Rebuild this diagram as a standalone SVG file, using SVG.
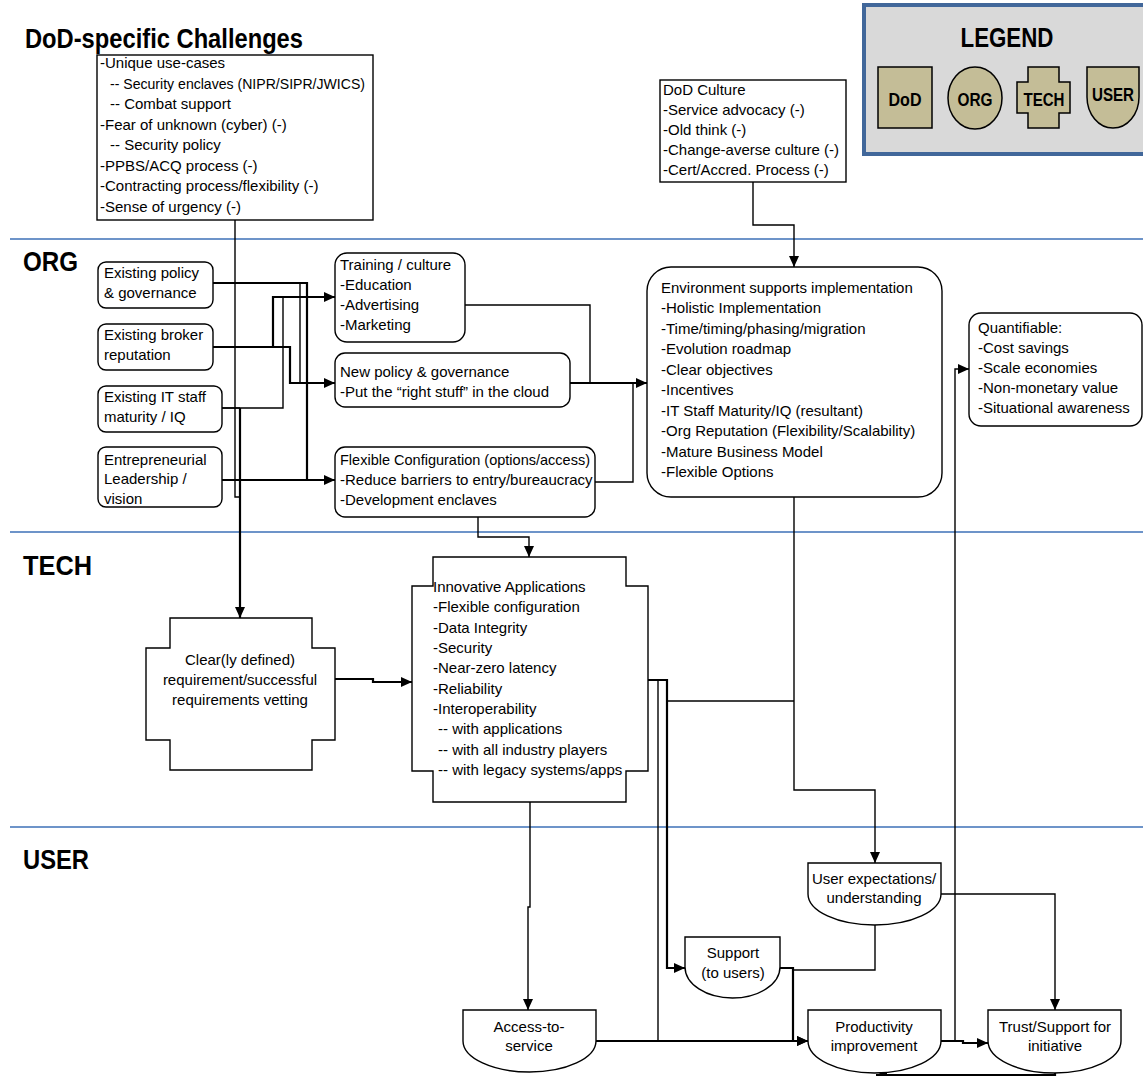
<svg xmlns="http://www.w3.org/2000/svg" width="1143" height="1076" viewBox="0 0 1143 1076">
  <defs>
    <marker id="arr" markerUnits="userSpaceOnUse" markerWidth="11" markerHeight="10" refX="11" refY="5" orient="auto">
      <path d="M0,0 L11,5 L0,10 z" fill="#000"/>
    </marker>
    <style>
      text { font-family: "Liberation Sans", Arial, sans-serif; font-size: 15px; fill: #000; }
      .h { font-size: 28px; font-weight: bold; }
      .lg { font-size: 18px; font-weight: bold; }
      .box { fill: #fff; stroke: #000; stroke-width: 1.4; }
      .leg { fill: #c4bd97; stroke: #000; stroke-width: 1.5; }
      .sep { stroke: #6d94c9; stroke-width: 2; }
      .c { fill: none; stroke: #000; stroke-width: 1.4; }
      .t { fill: none; stroke: #000; stroke-width: 2.2; }
      .mid { text-anchor: middle; }
    </style>
  </defs>

  <rect width="1143" height="1076" fill="#fff"/>

  <!-- swim-lane separators -->
  <g id="lanes">
    <line class="sep" x1="10" y1="239" x2="1143" y2="239"/>
    <line class="sep" x1="10" y1="532" x2="1143" y2="532"/>
    <line class="sep" x1="10" y1="827" x2="1143" y2="827"/>
    <text class="h" x="25" y="48" textLength="278" lengthAdjust="spacingAndGlyphs">DoD-specific Challenges</text>
    <text class="h" x="23" y="271" textLength="55" lengthAdjust="spacingAndGlyphs">ORG</text>
    <text class="h" x="23" y="575" textLength="69" lengthAdjust="spacingAndGlyphs">TECH</text>
    <text class="h" x="23" y="869" textLength="66" lengthAdjust="spacingAndGlyphs">USER</text>
  </g>

  <!-- legend -->
  <g id="legend">
    <rect x="864" y="5" width="300" height="149" fill="#d9d9d9" stroke="#41679a" stroke-width="4"/>
    <text class="h mid" x="1007" y="47" textLength="93" lengthAdjust="spacingAndGlyphs">LEGEND</text>
    <rect class="leg" x="878" y="67" width="54" height="61"/>
    <text class="lg mid" x="905" y="106" textLength="33" lengthAdjust="spacingAndGlyphs">DoD</text>
    <ellipse class="leg" cx="975" cy="98" rx="27" ry="31"/>
    <text class="lg mid" x="975" y="106" textLength="35" lengthAdjust="spacingAndGlyphs">ORG</text>
    <path class="leg" d="M1028,67 H1059 V82 H1070 V113 H1059 V128 H1028 V113 H1017 V82 H1028 Z"/>
    <text class="lg mid" x="1044" y="106" textLength="41" lengthAdjust="spacingAndGlyphs">TECH</text>
    <path class="leg" d="M1087,67 H1139 V97 A26,31 0 0 1 1087,97 Z"/>
    <text class="lg mid" x="1113" y="101" textLength="42" lengthAdjust="spacingAndGlyphs">USER</text>
  </g>

  <!-- connectors -->
  <g id="connectors">
    <!-- DoD challenges down to requirements -->
    <path class="c" d="M235,220 V497 H240"/>
    <path class="t" d="M240,408 V618" marker-end="url(#arr)"/>
    <!-- existing org factors to ORG actions -->
    <path class="t" d="M213,283 H307 V480"/>
    <path class="c" d="M300,283 V383"/>
    <path class="t" d="M213,347 H290 V383 H335" marker-end="url(#arr)"/>
    <path class="t" d="M273,347 V297 H335" marker-end="url(#arr)"/>
    <path class="c" d="M222,408 H283 V297"/>
    <path class="c" d="M222,408 H240"/>
    <path class="t" d="M222,480 H335" marker-end="url(#arr)"/>
    <!-- ORG actions to environment -->
    <path class="c" d="M465,305 H590 V383"/>
    <path class="t" d="M570,383 H647" marker-end="url(#arr)"/>
    <path class="c" d="M595,482 H633 V383"/>
    <!-- DoD culture to environment -->
    <path class="c" d="M753,182 V225 H794 V267" marker-end="url(#arr)"/>
    <!-- flexible configuration to innovative applications -->
    <path class="c" d="M478,517 V537 H529 V557" marker-end="url(#arr)"/>
    <!-- requirements to innovative applications -->
    <path class="t" d="M335,679 H373 V682 H412" marker-end="url(#arr)"/>
    <!-- innovative applications outputs -->
    <path class="t" d="M648,680 H667 V968 H685" marker-end="url(#arr)"/>
    <path class="c" d="M658,680 V1041"/>
    <path class="c" d="M667,701 H794"/>
    <path class="c" d="M530,802 V907 H528 V1010" marker-end="url(#arr)"/>
    <!-- environment to user expectations -->
    <path class="c" d="M794,497 V790 H875 V863" marker-end="url(#arr)"/>
    <!-- user level links -->
    <path class="c" d="M941,894 H1055 V1010" marker-end="url(#arr)"/>
    <path class="c" d="M875,925 V970 H793"/>
    <path class="t" d="M780,968 H793 V1041 H808" marker-end="url(#arr)"/>
    <path class="t" d="M596,1041 H808" marker-end="url(#arr)"/>
    <path class="t" d="M941,1041 H963 V1043 H988" marker-end="url(#arr)"/>
    <path class="c" d="M941,1041 H955 V369 H969" marker-end="url(#arr)"/>
    <path class="t" d="M1055,1073 V1075 H876" marker-end="url(#arr)"/>
  </g>

  <!-- DoD-level nodes -->
  <g id="dod-challenges">
    <rect class="box" x="97" y="55" width="276" height="165"/>
    <text x="100" y="68">-Unique  use-cases</text>
    <text x="110" y="89" textLength="255" lengthAdjust="spacingAndGlyphs">-- Security enclaves (NIPR/SIPR/JWICS)</text>
    <text x="110" y="109">-- Combat support</text>
    <text x="100" y="130">-Fear of unknown  (cyber) (-)</text>
    <text x="110" y="150">-- Security policy</text>
    <text x="100" y="171">-PPBS/ACQ process (-)</text>
    <text x="100" y="191">-Contracting process/flexibility (-)</text>
    <text x="100" y="212">-Sense of urgency (-)</text>
  </g>

  <g id="dod-culture">
    <rect class="box" x="660" y="80" width="186" height="102"/>
    <text x="663" y="95">DoD Culture</text>
    <text x="663" y="115">-Service advocacy (-)</text>
    <text x="663" y="135">-Old think (-)</text>
    <text x="663" y="155">-Change-averse culture (-)</text>
    <text x="663" y="175">-Cert/Accred. Process (-)</text>
  </g>

  <!-- ORG-level nodes -->
  <g id="existing-policy">
    <rect class="box" x="98" y="262" width="115" height="46" rx="8"/>
    <text x="104" y="278">Existing policy</text>
    <text x="104" y="298">&amp; governance</text>
  </g>
  <g id="existing-broker">
    <rect class="box" x="98" y="324" width="115" height="46" rx="8"/>
    <text x="104" y="340">Existing broker</text>
    <text x="104" y="360">reputation</text>
  </g>
  <g id="existing-it-staff">
    <rect class="box" x="98" y="386" width="124" height="46" rx="8"/>
    <text x="104" y="402">Existing IT staff</text>
    <text x="104" y="422">maturity / IQ</text>
  </g>
  <g id="entrepreneurial-leadership">
    <rect class="box" x="98" y="447" width="124" height="60" rx="8"/>
    <text x="104" y="465">Entrepreneurial</text>
    <text x="104" y="484">Leadership /</text>
    <text x="104" y="504">vision</text>
  </g>
  <g id="training-culture">
    <rect class="box" x="335" y="253" width="130" height="89" rx="12"/>
    <text x="340" y="270">Training / culture</text>
    <text x="340" y="290">-Education</text>
    <text x="340" y="310">-Advertising</text>
    <text x="340" y="330">-Marketing</text>
  </g>
  <g id="new-policy">
    <rect class="box" x="335" y="353" width="235" height="54" rx="10"/>
    <text x="340" y="377">New policy  &amp; governance</text>
    <text x="340" y="397">-Put the “right stuff” in the cloud</text>
  </g>
  <g id="flexible-configuration">
    <rect class="box" x="335" y="447" width="260" height="70" rx="10"/>
    <text x="340" y="465" textLength="250" lengthAdjust="spacingAndGlyphs">Flexible Configuration (options/access)</text>
    <text x="340" y="485">-Reduce barriers to entry/bureaucracy</text>
    <text x="340" y="505">-Development enclaves</text>
  </g>
  <g id="environment">
    <rect class="box" x="647" y="267" width="295" height="230" rx="24"/>
    <text x="661" y="293">Environment supports implementation</text>
    <text x="661" y="313">-Holistic Implementation</text>
    <text x="661" y="334">-Time/timing/phasing/migration</text>
    <text x="661" y="354">-Evolution  roadmap</text>
    <text x="661" y="375">-Clear objectives</text>
    <text x="661" y="395">-Incentives</text>
    <text x="661" y="416">-IT Staff Maturity/IQ (resultant)</text>
    <text x="661" y="436">-Org Reputation (Flexibility/Scalability)</text>
    <text x="661" y="457">-Mature Business Model</text>
    <text x="661" y="477">-Flexible  Options</text>
  </g>
  <g id="quantifiable">
    <rect class="box" x="969" y="313" width="173" height="113" rx="12"/>
    <text x="978" y="333">Quantifiable:</text>
    <text x="978" y="353">-Cost savings</text>
    <text x="978" y="373">-Scale economies</text>
    <text x="978" y="393">-Non-monetary value</text>
    <text x="978" y="413">-Situational awareness</text>
  </g>

  <!-- TECH-level nodes -->
  <g id="requirements">
    <path class="box" d="M170,618 H312 V648 H335 V740 H312 V770 H170 V740 H146 V648 H170 Z"/>
    <text class="mid" x="240" y="665">Clear(ly defined)</text>
    <text class="mid" x="240" y="685">requirement/successful</text>
    <text class="mid" x="240" y="705">requirements vetting</text>
  </g>
  <g id="innovative-applications">
    <path class="box" d="M433,557 H626 V586 H648 V771 H626 V802 H433 V771 H412 V586 H433 Z"/>
    <text x="433" y="592">Innovative Applications</text>
    <text x="433" y="612">-Flexible  configuration</text>
    <text x="433" y="633">-Data Integrity</text>
    <text x="433" y="653">-Security</text>
    <text x="433" y="673">-Near-zero latency</text>
    <text x="433" y="694">-Reliability</text>
    <text x="433" y="714">-Interoperability</text>
    <text x="438" y="734">-- with applications</text>
    <text x="438" y="755">-- with all industry players</text>
    <text x="438" y="775">-- with legacy systems/apps</text>
  </g>

  <!-- USER-level nodes -->
  <g id="user-expectations">
    <path class="box" d="M808,863 H941 V894 A66.5,31 0 0 1 808,894 Z"/>
    <text class="mid" x="874" y="884">User expectations/</text>
    <text class="mid" x="874" y="903">understanding</text>
  </g>
  <g id="support">
    <path class="box" d="M685,937 H780 V967 A47.5,31 0 0 1 685,967 Z"/>
    <text class="mid" x="733" y="958">Support</text>
    <text class="mid" x="733" y="978">(to users)</text>
  </g>
  <g id="access-to-service">
    <path class="box" d="M463,1010 H596 V1041 A66.5,31 0 0 1 463,1041 Z"/>
    <text class="mid" x="529" y="1032">Access-to-</text>
    <text class="mid" x="529" y="1051">service</text>
  </g>
  <g id="productivity">
    <path class="box" d="M808,1010 H941 V1041 A66.5,32 0 0 1 808,1041 Z"/>
    <text class="mid" x="874" y="1032">Productivity</text>
    <text class="mid" x="874" y="1051">improvement</text>
  </g>
  <g id="trust-support">
    <path class="box" d="M988,1010 H1121 V1041 A66.5,32 0 0 1 988,1041 Z"/>
    <text class="mid" x="1055" y="1032">Trust/Support for</text>
    <text class="mid" x="1055" y="1051">initiative</text>
  </g>
</svg>
